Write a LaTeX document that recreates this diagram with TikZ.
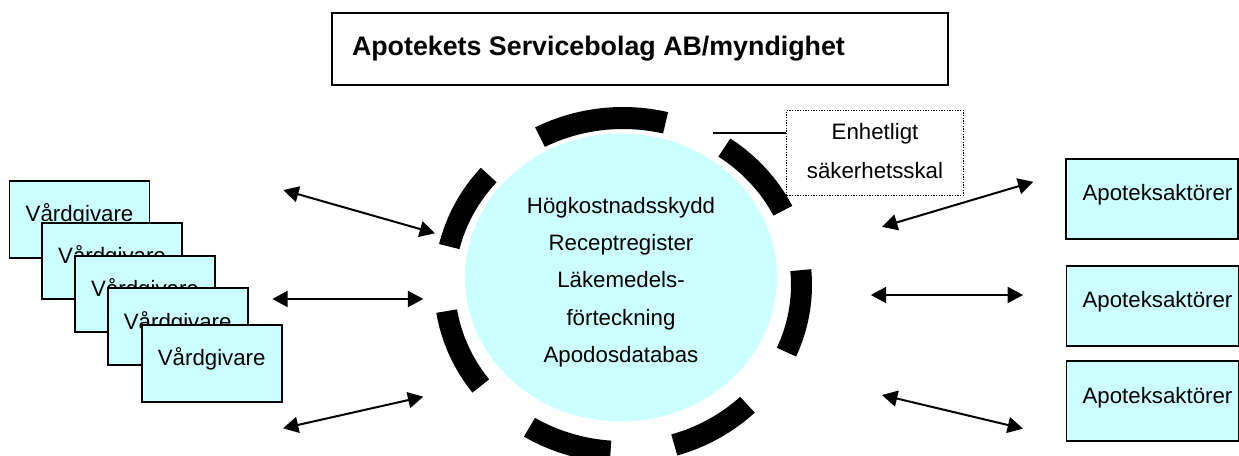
\documentclass[tikz,border=0pt]{standalone}
\usepackage{fontspec}
\setmainfont{Liberation Sans}
\usetikzlibrary{arrows.meta,shapes.geometric}
\definecolor{paleblue}{HTML}{CCFFFF}
\tikzset{
  bluebox/.style={draw=black,line width=1.4pt,fill=paleblue,rectangle,inner sep=0pt,outer sep=0pt},
  vbox/.style={bluebox,minimum width=105pt,minimum height=57.5pt},
  abox/.style={bluebox,minimum width=129pt,minimum height=60pt},
  txt/.style={inner sep=0pt,outer sep=0pt,anchor=base,font=\fontsize{16.7}{20}\selectfont},
  stack/.style={inner sep=0pt,outer sep=0pt,align=center},
  twoway/.style={draw=black,line width=1.5pt,{Triangle[length=11.5pt,width=12pt]}-{Triangle[length=11.5pt,width=12pt]}}
}
\newcommand{\ringpart}[2]{%
  \fill[black] plot[domain=#1:#2,samples=30] ({623+189*cos(\x)},{285+178*sin(\x)})
    -- plot[domain=#2:#1,samples=30] ({623+168*cos(\x)},{285+156*sin(\x)}) -- cycle;}
\begin{document}
\begin{tikzpicture}[x=0.75pt,y=-0.75pt]
\clip (0,0) rectangle (1239,456);
\fill[white] (0,0) rectangle (1239,456);

% title
\node[draw=black,line width=1.4pt,rectangle,minimum width=462pt,minimum height=54pt,inner sep=0pt] (title) at (640,49) {};
\node[txt,anchor=base west,font=\fontsize{20.1}{24}\selectfont\bfseries] (titletext) at (352,56) {Apotekets Servicebolag AB/myndighet};

% central circle and ring
\node[ellipse,fill=paleblue,minimum width=234pt,minimum height=216pt,inner sep=0pt] (core) at (621,277.5) {};
\node[stack,font=\fontsize{16.7}{28}\selectfont] (coretext) at (621,282) {Högkostnadsskydd\\Receptregister\\Läkemedels-\\förteckning\\Apodosdatabas};
\ringpart{-117.7}{-76.2}
\ringpart{-55.4}{-26.4}
\ringpart{-5.1}{23.7}
\ringpart{45.8}{73.3}
\ringpart{94}{121.6}
\ringpart{142.8}{171}
\ringpart{193.3}{221.2}

% security shell label
\node[draw=black,line width=1.1pt,dash pattern=on 0.9pt off 1.1pt,rectangle,minimum width=132.5pt,minimum height=64pt,inner sep=0pt] (shell) at (875,153) {};
\node[stack,font=\fontsize{16.7}{29}\selectfont] (shelltext) at (875,151) {Enhetligt\\säkerhetsskal};
\coordinate (shellend) at (713,133);
\draw[black,line width=1.5pt] (shellend) -- (shellend -| shell.west);

% left stack
\node[vbox] (v1) at (79.5,219.5) {};
\node[txt] (v1t) at (79.5,222) {Vårdgivare};
\node[vbox] (v2) at (112,261) {};
\node[txt] (v2t) at (112,263.5) {Vårdgivare};
\node[vbox] (v3) at (145,294) {};
\node[txt] (v3t) at (145,296.5) {Vårdgivare};
\node[vbox] (v4) at (177.7,326.5) {};
\node[txt] (v4t) at (177.7,329) {Vårdgivare};
\node[vbox] (v5) at (211.7,363.5) {};
\node[txt] (v5t) at (211.7,365.5) {Vårdgivare};

% right boxes
\node[abox] (a1) at (1152,198.7) {};
\node[txt] (a1t) at (1157.5,200.7) {Apoteksaktörer};
\node[abox] (a2) at (1152.5,305.7) {};
\node[txt] (a2t) at (1157.5,307) {Apoteksaktörer};
\node[abox] (a3) at (1152.5,401) {};
\node[txt] (a3t) at (1157.5,403) {Apoteksaktörer};

% arrow ends
\coordinate (l1a) at (283.3,190);
\coordinate (l1b) at (435,233.3);
\coordinate (l2a) at (272.3,299);
\coordinate (l2b) at (423.3,299);
\coordinate (l3a) at (283,428.3);
\coordinate (l3b) at (423.3,396.7);
\coordinate (r1a) at (882,226.8);
\coordinate (r1b) at (1033.4,181.8);
\coordinate (r2a) at (870.8,295);
\coordinate (r2b) at (1023,295);
\coordinate (r3a) at (882,395);
\coordinate (r3b) at (1023,428.6);
\draw[twoway] (l1a) -- (l1b);
\draw[twoway] (l2a) -- (l2b);
\draw[twoway] (l3a) -- (l3b);
\draw[twoway] (r1a) -- (r1b);
\draw[twoway] (r2a) -- (r2b);
\draw[twoway] (r3a) -- (r3b);
\end{tikzpicture}
\end{document}
